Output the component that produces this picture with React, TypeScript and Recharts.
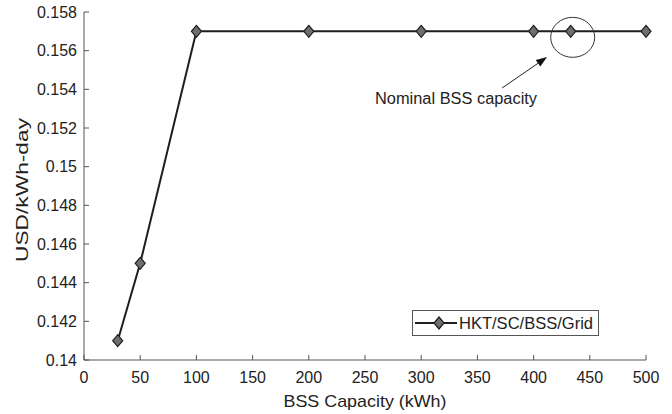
import React from 'react';
import { LineChart, Line, XAxis, YAxis, ReferenceDot, ReferenceLine, Legend, Label } from 'recharts';

const capacity = [30, 50, 100, 200, 300, 400, 433, 500];
const cost = [0.141, 0.145, 0.157, 0.157, 0.157, 0.157, 0.157, 0.157];
const xTicks = [0, 50, 100, 150, 200, 250, 300, 350, 400, 450, 500];
const yTicks = [0.14, 0.142, 0.144, 0.146, 0.148, 0.15, 0.152, 0.154, 0.156, 0.158];
const seriesName = 'HKT/SC/BSS/Grid';
const xTitle = 'BSS Capacity (kWh)';
const yTitle = 'USD/kWh-day';
const noteText = 'Nominal BSS capacity';
const nominalPoint = { x: 433, y: 0.157 };
const arrowStart = { x: 372, y: 0.15407 };
const arrowEnd = { x: 412, y: 0.15567 };
const notePos = { x: 331, y: 0.15355 };

const data = capacity.map((c, i) => ({ x: c, y: cost[i] }));

const FONT = '"Liberation Sans", Arial, sans-serif';
const AXIS = '#555';
const TEXT = '#222';
const LINE = '#1e1e1e';
const MARK = '#6e6e6e';

const diamondPath = (cx: number, cy: number) =>
  `M${cx},${cy - 6} L${cx + 5},${cy} L${cx},${cy + 6} L${cx - 5},${cy} Z`;

const renderDot = (props: any) => {
  const { cx, cy, index } = props;
  return <path key={`d-${index}`} d={diamondPath(cx, cy)} fill={MARK} stroke={LINE} strokeWidth={1.2} />;
};

const LegendBox = () => (
  <svg width={187} height={26} style={{ display: 'block' }}>
    <rect x={0.5} y={0.5} width={186} height={25} fill="#fff" stroke={AXIS} strokeWidth={1} />
    <line x1={3} y1={13} x2={45} y2={13} stroke={LINE} strokeWidth={2} />
    <path d={diamondPath(27, 13)} fill={MARK} stroke={LINE} strokeWidth={1.2} />
    <text
      x={47}
      y={13}
      dominantBaseline="central"
      fontFamily={FONT}
      fontSize={16.5}
      fill={TEXT}
      textLength={134}
      lengthAdjust="spacingAndGlyphs"
    >
      {seriesName}
    </text>
  </svg>
);

const YTitle = (props: any) => {
  const vb = props.viewBox || { x: 24, y: 12, width: 60, height: 348 };
  const cx = vb.x - 2;
  const cy = vb.y + vb.height / 2 + 4;
  return (
    <text
      x={cx}
      y={cy}
      transform={`rotate(-90, ${cx}, ${cy})`}
      textAnchor="middle"
      dominantBaseline="central"
      fontFamily={FONT}
      fontSize={17}
      fill={TEXT}
      textLength={144}
      lengthAdjust="spacingAndGlyphs"
    >
      {yTitle}
    </text>
  );
};

const XTitle = (props: any) => {
  const vb = props.viewBox || { x: 84, y: 360, width: 562, height: 54 };
  const cx = vb.x + vb.width / 2;
  const by = vb.y + 47;
  return (
    <text
      x={cx}
      y={by}
      textAnchor="middle"
      fontFamily={FONT}
      fontSize={17}
      fill={TEXT}
      textLength={163}
      lengthAdjust="spacingAndGlyphs"
    >
      {xTitle}
    </text>
  );
};

export default function App() {
  return (
    <div style={{ position: 'absolute', left: 0, top: 0, background: '#fff' }}>
      <LineChart
        width={672}
        height={414}
        data={data}
        margin={{ top: 12, right: 26, bottom: 0, left: 24 }}
        style={{ fontFamily: FONT }}
      >
        <XAxis
          dataKey="x"
          type="number"
          domain={[0, 500]}
          ticks={xTicks}
          interval={0}
          height={54}
          tickSize={-5}
          tickMargin={17}
          stroke={AXIS}
          tick={{ fill: TEXT, fontSize: 16, fontFamily: FONT }}
        >
          <Label content={<XTitle />} />
        </XAxis>
        <XAxis
          xAxisId="top"
          orientation="top"
          type="number"
          domain={[0, 500]}
          ticks={xTicks}
          interval={0}
          height={0}
          tickSize={-5}
          stroke={AXIS}
          tick={() => <g />}
        />
        <YAxis
          type="number"
          domain={[0.14, 0.158]}
          ticks={yTicks}
          interval={0}
          width={60}
          tickSize={-5}
          tickMargin={12}
          stroke={AXIS}
          tick={{ fill: TEXT, fontSize: 16, fontFamily: FONT }}
        >
          <Label content={<YTitle />} />
        </YAxis>
        <YAxis
          yAxisId="right"
          orientation="right"
          type="number"
          domain={[0.14, 0.158]}
          ticks={yTicks}
          interval={0}
          width={0}
          tickSize={-5}
          stroke={AXIS}
          tick={() => <g />}
        />
        <Line
          dataKey="y"
          name={seriesName}
          type="linear"
          stroke={LINE}
          strokeWidth={2}
          dot={renderDot}
          activeDot={false}
          isAnimationActive={false}
        />
        <ReferenceDot
          x={nominalPoint.x}
          y={nominalPoint.y}
          r={0}
          shape={(p: any) => (
            <ellipse cx={p.cx + 2} cy={p.cy + 6} rx={22} ry={20} fill="none" stroke="#333" strokeWidth={1} />
          )}
        />
        <ReferenceLine
          segment={[arrowStart, arrowEnd]}
          stroke="#222"
          shape={(p: any) => {
            const { x1, y1, x2, y2 } = p;
            const ang = Math.atan2(y2 - y1, x2 - x1);
            const L = 11;
            const W = 4;
            const bx = x2 - L * Math.cos(ang);
            const by = y2 - L * Math.sin(ang);
            const px = -Math.sin(ang) * W;
            const py = Math.cos(ang) * W;
            return (
              <g>
                <line x1={x1} y1={y1} x2={bx} y2={by} stroke="#222" strokeWidth={1} />
                <polygon points={`${x2},${y2} ${bx + px},${by + py} ${bx - px},${by - py}`} fill="#111" />
              </g>
            );
          }}
        />
        <ReferenceDot
          x={notePos.x}
          y={notePos.y}
          r={0}
          shape={(p: any) => (
            <text
              x={p.cx}
              y={p.cy}
              textAnchor="middle"
              dominantBaseline="central"
              fontFamily={FONT}
              fontSize={16}
              fill={TEXT}
              textLength={162}
              lengthAdjust="spacingAndGlyphs"
            >
              {noteText}
            </text>
          )}
        />
        <Legend
          layout="horizontal"
          verticalAlign="middle"
          align="center"
          wrapperStyle={{ left: 412, top: 310, width: 187, height: 26 }}
          content={() => <LegendBox />}
        />
      </LineChart>
    </div>
  );
}
